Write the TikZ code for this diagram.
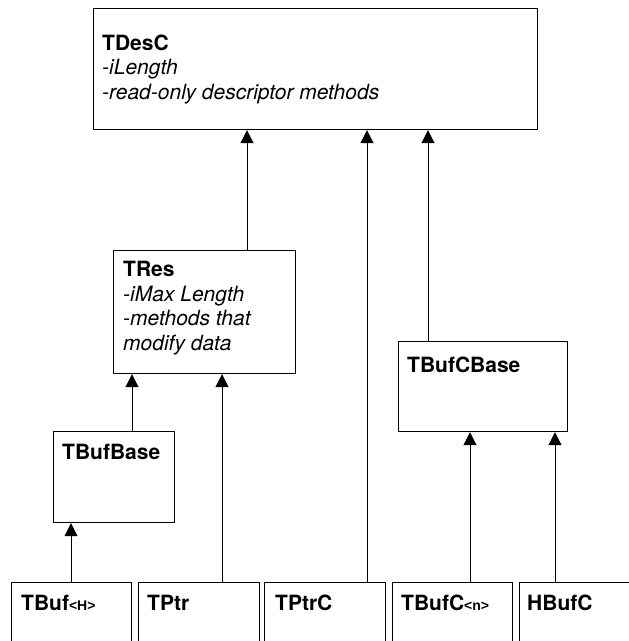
\documentclass[tikz,border=0pt]{standalone}
\usepackage{fontspec}
\setmainfont{TeX Gyre Heros}
\newfontfamily\paramfont{Liberation Sans}
\usetikzlibrary{arrows.meta}
\begin{document}
\begin{tikzpicture}[x=1pt,y=-1pt,
  cls/.style={draw, line width=1.2pt, rectangle, inner sep=0pt, anchor=north west},
  txt/.style={anchor=base west, inner sep=0pt, align=left,
              font=\fontsize{21}{24.6}\selectfont},
  inh/.style={line width=1pt, -{Triangle[length=13pt,width=13pt]}}]
\useasboundingbox (0,0) rectangle (629,641);
\clip (0,0) rectangle (629,641);

% class boxes
\node[cls, minimum width=444pt, minimum height=121pt] (tdesc) at (93,8) {};
\node[cls, minimum width=182pt, minimum height=123pt] (tres) at (113,250) {};
\node[cls, minimum width=121pt, minimum height=91pt] (tbufbase) at (53,431) {};
\node[cls, minimum width=169pt, minimum height=90pt] (tbufcbase) at (398,341) {};
\node[cls, minimum width=120pt, minimum height=80pt] (tbuf) at (11,582) {};
\node[cls, minimum width=121pt, minimum height=80pt] (tptr) at (138,582) {};
\node[cls, minimum width=121pt, minimum height=80pt] (tptrc) at (264,582) {};
\node[cls, minimum width=120pt, minimum height=80pt] (tbufc) at (392,582) {};
\node[cls, minimum width=121pt, minimum height=80pt] (hbufc) at (519,582) {};

% class texts (multi-line nodes are anchored on their last baseline)
\node[txt] (tdesc-t) at (102,99.2) {\textbf{TDesC}\\\textit{-iLength}\\\textit{-read-only descriptor methods}};
\node[txt] (tres-t) at (123,350.5) {\textbf{TRes}\\\textit{-iMax Length}\\\textit{-methods that}\\\textit{modify data}};
\node[txt] (tbufbase-t) at (62,459) {\textbf{TBufBase}};
\node[txt] (tbufcbase-t) at (407,372) {\textbf{TBufCBase}};
\node[txt] (tbuf-t) at (21,610) {\textbf{TBuf{\paramfont\fontsize{14}{14}\selectfont<H>}}};
\node[txt] (tptr-t) at (147,610) {\textbf{TPtr}};
\node[txt] (tptrc-t) at (275,610) {\textbf{TPtrC}};
\node[txt] (tbufc-t) at (401,610) {\textbf{TBufC{\paramfont\fontsize{14}{14}\selectfont<n>}}};
\node[txt] (hbufc-t) at (527,610) {\textbf{HBufC}};

% columns of the inheritance lines
\coordinate (c1) at (247,0);
\coordinate (c2) at (367,0);
\coordinate (c3) at (428,0);
\coordinate (c4) at (132,0);
\coordinate (c5) at (222,0);
\coordinate (c6) at (71,0);
\coordinate (c7) at (470,0);
\coordinate (c8) at (555,0);

% inheritance
\draw[inh] (tres.north -| c1) -- (tdesc.south -| c1);
\draw[inh] (tptrc.north -| c2) -- (tdesc.south -| c2);
\draw[inh] (tbufcbase.north -| c3) -- (tdesc.south -| c3);
\draw[inh] (tbufbase.north -| c4) -- (tres.south -| c4);
\draw[inh] (tptr.north -| c5) -- (tres.south -| c5);
\draw[inh] (tbuf.north -| c6) -- (tbufbase.south -| c6);
\draw[inh] (tbufc.north -| c7) -- (tbufcbase.south -| c7);
\draw[inh] (hbufc.north -| c8) -- (tbufcbase.south -| c8);
\end{tikzpicture}
\end{document}
